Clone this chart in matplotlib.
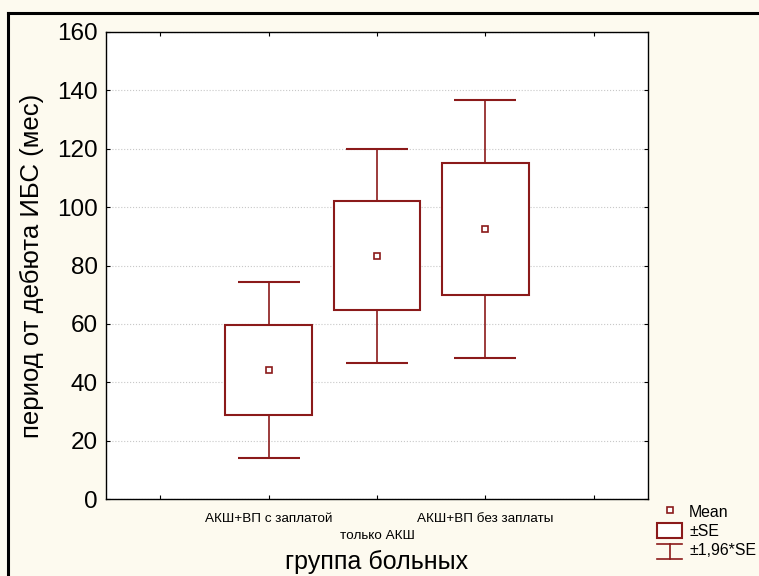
import matplotlib
matplotlib.use('Agg')
import matplotlib.pyplot as plt
from matplotlib.lines import Line2D
from matplotlib.patches import Rectangle
from matplotlib.legend_handler import HandlerBase
from matplotlib.transforms import ScaledTranslation

plt.rcParams['font.family'] = ['Liberation Sans', 'DejaVu Sans']

# данные
groups = ['АКШ+ВП с заплатой', 'только АКШ', 'АКШ+ВП без заплаты']
positions = [2, 3, 4]
means = [44.2, 83.3, 92.6]
se = [15.45, 18.65, 22.55]

dark_red = '#8b1a1a'
bg = '#fdfaef'


class WhiskerHandler(HandlerBase):
    # значок "I" для ±1,96*SE
    def create_artists(self, legend, orig_handle, xdescent, ydescent,
                       width, height, fontsize, trans):
        cx = width / 2 - xdescent
        y0 = -ydescent - 1
        y1 = height - ydescent - 1
        half = width * 0.5
        arts = [
            Line2D([cx, cx], [y0, y1], color=dark_red, lw=1.2),
            Line2D([cx - half, cx + half], [y0, y0], color=dark_red, lw=1.2),
            Line2D([cx - half, cx + half], [y1, y1], color=dark_red, lw=1.2),
        ]
        for a in arts:
            a.set_transform(trans)
        return arts


fig = plt.figure(figsize=(7.59, 5.76), dpi=100, facecolor=bg)
ax = fig.add_axes([106 / 759, 1 - 499 / 576, 542 / 759, 467 / 576])
ax.set_facecolor('white')

lo = [m - s for m, s in zip(means, se)]
hi2 = [1.96 * s for s in se]

# усы ±1,96*SE
ax.errorbar(positions, means, yerr=hi2, fmt='none', ecolor=dark_red,
            elinewidth=1.2, capsize=22, capthick=1.5, zorder=2)
# коробки ±SE
ax.bar(positions, [2 * s for s in se], bottom=lo, width=0.8, color='white',
       edgecolor=dark_red, linewidth=1.5, zorder=3)
# средние
ax.plot(positions, means, 's', ms=5, mfc='white', mec=dark_red, mew=1.2,
        zorder=4)

ax.set_xlim(0.5, 5.5)
ax.set_ylim(0, 160)
ax.set_yticks(range(0, 161, 20))
ax.set_xticks([1, 2, 3, 4, 5])
ax.set_xticklabels([''] + groups + [''], fontsize=9.7)
ax.tick_params(axis='y', labelsize=17.5, pad=6)
ax.tick_params(direction='in', length=3, top=True, right=True, width=0.8)
ax.yaxis.grid(True, linestyle=':', color='#c8c8c8', lw=0.8)
ax.set_axisbelow(True)
for sp in ax.spines.values():
    sp.set_linewidth(1.0)

# средняя подпись ниже остальных
lbl = ax.get_xticklabels()[2]
lbl.set_transform(lbl.get_transform() +
                  ScaledTranslation(0, -12 / 72, fig.dpi_scale_trans))
for l in ax.get_xticklabels():
    l.set_y(-0.02)

ax.set_ylabel('период от дебюта ИБС (мес)', fontsize=18.5, va='center')
ax.yaxis.set_label_coords(-0.1365, 0.5)
ax.set_xlabel('группа больных', fontsize=18, va='bottom')
ax.xaxis.set_label_coords(0.5, -0.161)

handles = [
    Line2D([], [], marker='s', ls='none', ms=5, mfc='white', mec=dark_red, mew=1.2),
    Rectangle((0, 0), 1, 1, facecolor='white', edgecolor=dark_red, lw=1.5),
    object(),
]
fig.legend(handles, ['Mean', '±SE', '±1,96*SE'], loc='upper left',
           bbox_to_anchor=(657 / 759, 1 - 504 / 576), frameon=False,
           fontsize=11.4, handlelength=1.58, handleheight=1.05,
           labelspacing=0.22, handletextpad=0.45, borderpad=0,
           borderaxespad=0, handler_map={object: WhiskerHandler()})

# рамка рисунка
fig.add_artist(Line2D([8 / 759, 1], [1 - 13 / 576] * 2, transform=fig.transFigure,
                      color='black', lw=2.2))
fig.add_artist(Line2D([8 / 759] * 2, [0, 1 - 13 / 576], transform=fig.transFigure,
                      color='black', lw=2.2))

fig.savefig('out.png', dpi=100, facecolor=bg)
